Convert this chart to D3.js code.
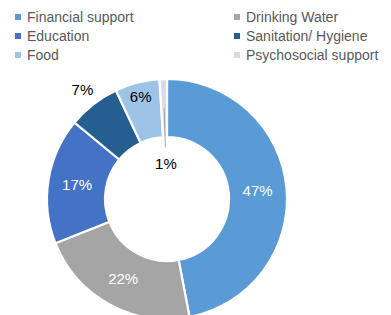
<!DOCTYPE html>
<html>
<head>
<meta charset="utf-8">
<script src="https://cdn.jsdelivr.net/npm/d3@7"></script>
<style>
  body { margin: 0; background: #fff; }
  svg { display: block; }
</style>
</head>
<body>
<svg id="chart"></svg>
<script>
const categories = [
  "Financial support",
  "Drinking Water",
  "Education",
  "Sanitation/ Hygiene",
  "Food",
  "Psychosocial support"
];
const values = [47, 22, 17, 7, 6, 1];
const colors = ["#5b9bd5", "#a5a5a5", "#4472c4", "#255e91", "#9dc3e6", "#d6dce5"];

const width = 391;
const height = 315;
const cx = 167;
const cy = 199;
const outerR = 120;
const innerR = 62;

// label placement: "in" = centroid, "out" = beyond ring, "hole" = inside hole with leader
const labelMode = ["in", "in", "in", "out", "mid", "hole"];

const svg = d3.select("#chart").attr("width", width).attr("height", height);

const data = categories.map((c, i) => ({ label: c, value: values[i], color: colors[i], mode: labelMode[i] }));

const pie = d3.pie().sort(null).value(d => d.value);
const arcs = pie(data);

const arc = d3.arc().innerRadius(innerR).outerRadius(outerR);
const labelArc = r => d3.arc().innerRadius(r).outerRadius(r);

const g = svg.append("g").attr("transform", `translate(${cx},${cy})`);

g.selectAll("path.slice")
  .data(arcs)
  .enter()
  .append("path")
  .attr("class", "slice")
  .attr("d", arc)
  .attr("fill", d => d.data.color)
  .attr("stroke", "#fff")
  .attr("stroke-width", 2.2);

const radiusFor = {
  in: (innerR + outerR) / 2,
  mid: 106,
  out: 138,
  hole: 35
};

// leader line for the tiny slice
g.selectAll("line.leader")
  .data(arcs.filter(d => d.data.mode === "hole"))
  .enter()
  .append("line")
  .attr("class", "leader")
  .attr("x1", d => labelArc(91).centroid(d)[0])
  .attr("y1", d => labelArc(91).centroid(d)[1])
  .attr("x2", d => labelArc(52).centroid(d)[0])
  .attr("y2", d => labelArc(52).centroid(d)[1])
  .attr("stroke", "#a6a6a6")
  .attr("stroke-width", 1);

g.selectAll("text.value")
  .data(arcs)
  .enter()
  .append("text")
  .attr("class", "value")
  .attr("transform", d => {
    const pos = labelArc(radiusFor[d.data.mode]).centroid(d);
    return `translate(${pos})`;
  })
  .attr("text-anchor", "middle")
  .attr("dy", "0.35em")
  .attr("font-family", "'Liberation Sans', Arial, sans-serif")
  .attr("font-size", "15px")
  .attr("fill", d => (d.data.mode === "in" ? "#fff" : "#000"))
  .text(d => d.data.value + "%");

// legend
const legend = svg.append("g").attr("class", "legend");
const colX = [15, 234];
const rowY = [17, 36, 55];

const item = legend
  .selectAll("g.item")
  .data(data)
  .enter()
  .append("g")
  .attr("class", "item")
  .attr("transform", (d, i) => `translate(${colX[i % 2]},${rowY[Math.floor(i / 2)]})`);

item
  .append("rect")
  .attr("x", 0)
  .attr("y", -3)
  .attr("width", 6)
  .attr("height", 6)
  .attr("fill", d => d.color);

item
  .append("text")
  .attr("x", 12)
  .attr("dy", "0.35em")
  .attr("font-family", "'Liberation Sans', Arial, sans-serif")
  .attr("font-size", "14px")
  .attr("fill", "#595959")
  .text(d => d.label);
</script>
</body>
</html>
